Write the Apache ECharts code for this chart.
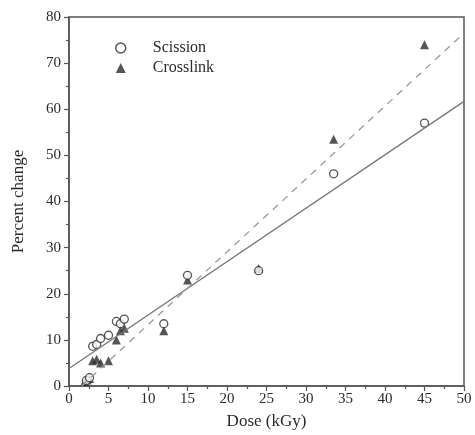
<!DOCTYPE html>
<html>
<head>
<meta charset="utf-8">
<script src="https://cdn.jsdelivr.net/npm/echarts@6/dist/echarts.min.js"></script>
<style>
  html, body { margin: 0; padding: 0; background: #fff; }
  #chart { width: 475px; height: 435px; }
</style>
</head>
<body>
<div id="chart"></div>
<script>
// dose (kGy), percent change
const scissionDose = [2.2, 2.6, 3.0, 3.5, 4.0, 5.0, 6.0, 6.5, 7.0, 12.0, 15.0, 24.0, 33.5, 45.0];
const scissionPct  = [1.2, 1.8, 8.6, 9.0, 10.3, 11.0, 14.0, 13.5, 14.5, 13.5, 24.0, 25.0, 46.0, 57.0];

const crossDose = [2.0, 2.3, 2.6, 3.0, 3.5, 4.0, 5.0, 6.0, 6.5, 7.0, 12.0, 15.0, 24.0, 33.5, 45.0];
const crossPct  = [1.0, 1.3, 1.6, 5.5, 5.8, 5.0, 5.5, 10.0, 12.0, 12.5, 12.0, 23.0, 25.5, 53.5, 74.0];

// fitted lines, end points
const scissionFit = [[0, 3.8], [50, 61.7]];
const crossFit = [[1.6, 0], [50, 76.5]];

const xTicks = [0, 5, 10, 15, 20, 25, 30, 35, 40, 45, 50];
const yTicks = [0, 10, 20, 30, 40, 50, 60, 70, 80];

const font = "Liberation Serif";
const ink = "#2a2a2a";

const zip = (a, b) => a.map((v, i) => [v, b[i]]);

const chart = echarts.init(document.getElementById("chart"), null, { renderer: "canvas" });

chart.setOption({
  backgroundColor: "#fff",
  animation: false,
  grid: {
    left: 69,
    right: 11,
    top: 17,
    bottom: 46,
    show: true,
    borderColor: "#555",
    borderWidth: 1.5,
    backgroundColor: "transparent",
  },
  legend: {
    orient: "vertical",
    left: 110,
    top: 35,
    itemGap: 4,
    itemWidth: 10,
    itemHeight: 10,
    textStyle: { fontFamily: font, fontSize: 16, color: ink, padding: [0, 0, 0, 22] },
    data: [
      { name: "Scission", icon: "circle", itemStyle: { color: "#fff", borderColor: ink, borderWidth: 1.5 } },
      { name: "Crosslink", icon: "triangle", itemStyle: { color: ink, borderWidth: 0 } },
    ],
  },
  xAxis: {
    type: "value",
    min: xTicks[0],
    max: xTicks[xTicks.length - 1],
    interval: 5,
    name: "Dose (kGy)",
    nameLocation: "middle",
    nameGap: 27,
    nameTextStyle: { fontFamily: font, fontSize: 17, color: ink },
    axisLine: { lineStyle: { color: "#555", width: 1.5 } },
    axisTick: { show: true, length: 5, lineStyle: { color: "#555", width: 1.2 } },
    minorTick: { show: true, splitNumber: 2, length: 3, lineStyle: { color: "#555", width: 1.2 } },
    axisLabel: { fontFamily: font, fontSize: 15, color: ink, margin: 6 },
    splitLine: { show: false },
  },
  yAxis: {
    type: "value",
    min: yTicks[0],
    max: yTicks[yTicks.length - 1],
    interval: 10,
    name: "Percent change",
    nameLocation: "middle",
    nameGap: 42,
    nameTextStyle: { fontFamily: font, fontSize: 17, color: ink },
    axisLine: { lineStyle: { color: "#555", width: 1.5 } },
    axisTick: { show: true, length: 5, lineStyle: { color: "#555", width: 1.2 } },
    minorTick: { show: true, splitNumber: 2, length: 3, lineStyle: { color: "#555", width: 1.2 } },
    axisLabel: { fontFamily: font, fontSize: 15, color: ink, margin: 8 },
    splitLine: { show: false },
  },
  series: [
    {
      name: "Scission fit",
      type: "line",
      data: scissionFit,
      symbol: "none",
      lineStyle: { color: "#777", width: 1.3 },
      silent: true,
    },
    {
      name: "Crosslink fit",
      type: "line",
      data: crossFit,
      symbol: "none",
      lineStyle: { color: "#999", width: 1.3, type: [7, 6] },
      silent: true,
    },
    {
      name: "Crosslink",
      type: "scatter",
      data: zip(crossDose, crossPct),
      symbol: "triangle",
      symbolSize: 9,
      itemStyle: { color: ink },
    },
    {
      name: "Scission",
      type: "scatter",
      data: zip(scissionDose, scissionPct),
      symbol: "circle",
      symbolSize: 8,
      itemStyle: { color: "#fff", borderColor: ink, borderWidth: 1.3 },
    },
  ],
});
</script>
</body>
</html>
